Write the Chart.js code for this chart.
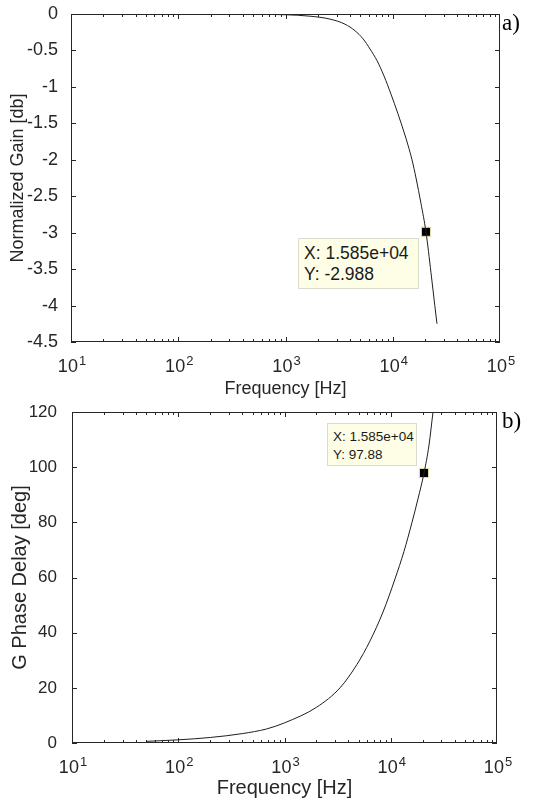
<!DOCTYPE html>
<html>
<head>
<meta charset="utf-8">
<script src="https://cdn.jsdelivr.net/npm/chart.js@4.4.0/dist/chart.umd.min.js"></script>
<style>
  body { margin: 0; background: #fff; }
  #wrap { position: relative; width: 538px; height: 804px; overflow: hidden; }
  canvas { position: absolute; left: 0; }
  #gainChart { top: 0; }
  #phaseChart { top: 402px; }
  .tip {
    position: absolute; background: #fefee6; border: 1px solid #dcdccc;
    font-family: "Liberation Sans", Arial, sans-serif; color: #1a1a1a;
    box-sizing: border-box; white-space: nowrap;
  }
  #tipA { left: 298px; top: 238px; width: 121px; height: 51px; font-size: 17.5px; line-height: 21px; padding: 4px 0 0 5px; }
  #tipB { left: 327px; top: 423px; width: 90px; height: 43px; font-size: 13.5px; line-height: 18px; padding: 4px 0 0 5px; }
  .tag { position: absolute; font-family: "Liberation Serif", "Times New Roman", serif; font-size: 23px; color: #000; }
  .dec {
    position: absolute; transform: translateX(-50%); white-space: nowrap;
    font-family: "Liberation Sans", Arial, sans-serif; font-size: 18px; line-height: 18px; color: #262626;
  }
  .dec span { font-size: 13px; position: relative; top: -7px; margin-left: 1px; }
</style>
</head>
<body>
<div id="wrap">
  <canvas id="gainChart" width="538" height="402"></canvas>
  <canvas id="phaseChart" width="538" height="402"></canvas>
  <div class="tip" id="tipA">X: 1.585e+04<br>Y: -2.988</div>
  <div class="tip" id="tipB">X: 1.585e+04<br>Y: 97.88</div>
  <div class="tag" style="left:502px; top:10px;">a)</div>
  <div class="tag" style="left:502px; top:408px;">b)</div>
</div>
<script>
// values (frequency in Hz against the plotted axis)
const gainFreqHz = [50, 100, 300, 990, 1690, 2600, 3590, 4450, 5280, 6140, 7130, 8290, 9630, 11190, 12730, 13880, 15120, 16480, 18340, 20400, 22730, 24670, 25850];
const gainDb = [0, 0, -0.002, -0.01, -0.03, -0.07, -0.14, -0.23, -0.34, -0.48, -0.64, -0.85, -1.1, -1.37, -1.62, -1.8, -2.0, -2.25, -2.6, -2.988, -3.55, -4.0, -4.25];

const phaseFreqHz = [50, 100, 200, 400, 680, 1000, 2010, 3330, 4810, 6380, 8460, 10970, 13330, 15850, 18040, 20560, 22910, 25000, 26700];
const phaseDeg = [0.6, 1.15, 2.0, 3.4, 5.1, 7.3, 13, 20, 28.5, 37, 47.5, 59.5, 69.5, 80, 88.5, 97.88, 108, 120, 128];

// data cursor squares, where they sit in the figure
const gainCursor = [{ x: 20400, y: -2.988 }];
const phaseCursor = [{ x: 20560, y: 97.88 }];

const decadeTicks = [10, 100, 1000, 10000, 100000];
const decadeExp = ['1', '2', '3', '4', '5'];
const gainTicks = [0, -0.5, -1, -1.5, -2, -2.5, -3, -3.5, -4, -4.5];
const phaseTicks = [0, 20, 40, 60, 80, 100, 120];

const FONT = '"Liberation Sans", Arial, sans-serif';
const INK = '#262626';

// box round the plot with inward ticks on all four sides, like matlab
const boxPlugin = {
  id: 'box',
  afterDatasetsDraw(chart) {
    const { ctx, chartArea: a, scales } = chart;
    const x = scales.x, y = scales.y;
    ctx.save();
    ctx.strokeStyle = INK;
    ctx.lineWidth = 1;
    ctx.strokeRect(a.left + 0.5, a.top + 0.5, a.right - a.left - 1, a.bottom - a.top - 1);
    ctx.beginPath();
    for (let d = 1; d < 5; d++) {
      for (let m = 1; m < 10; m++) {
        const px = Math.round(x.getPixelForValue(m * Math.pow(10, d))) + 0.5;
        const len = m == 1 ? 5 : 3;
        ctx.moveTo(px, a.bottom); ctx.lineTo(px, a.bottom - len);
        ctx.moveTo(px, a.top); ctx.lineTo(px, a.top + len);
      }
    }
    y.ticks.forEach(t => {
      const py = Math.round(y.getPixelForValue(t.value)) + 0.5;
      ctx.moveTo(a.left, py); ctx.lineTo(a.left + 5, py);
      ctx.moveTo(a.right, py); ctx.lineTo(a.right - 5, py);
    });
    ctx.stroke();
    ctx.restore();
  }
};

function makeChart(id, cfg) {
  const chart = new Chart(document.getElementById(id), {
    type: 'line',
    data: {
      datasets: [
        {
          data: cfg.freq.map((f, i) => ({ x: f, y: cfg.vals[i] })),
          borderColor: '#1e1e1e', borderWidth: 1, pointRadius: 0,
          cubicInterpolationMode: 'monotone', fill: false
        },
        {
          data: cfg.cursor, showLine: false, pointStyle: 'rect',
          pointRadius: 6.4, pointBackgroundColor: '#000', pointBorderColor: '#e6dfa8', pointBorderWidth: 1
        }
      ]
    },
    options: {
      responsive: false, animation: false,
      layout: { padding: cfg.pad },
      plugins: { legend: { display: false }, tooltip: { enabled: false } },
      scales: {
        x: {
          type: 'logarithmic', min: 10, max: 100000,
          grid: { display: false }, border: { display: false },
          afterBuildTicks: s => { s.ticks = decadeTicks.map(v => ({ value: v })); },
          afterFit: s => { s.height = cfg.xh; s.paddingLeft = 0; s.paddingRight = 0; },
          ticks: { display: false },
          title: {
            display: true, text: 'Frequency [Hz]', color: INK,
            font: { family: FONT, size: cfg.titleSize }, padding: { bottom: cfg.xTitlePad, top: 0 }
          }
        },
        y: {
          min: Math.min(...cfg.ticks), max: Math.max(...cfg.ticks),
          grid: { display: false }, border: { display: false },
          afterBuildTicks: s => { s.ticks = cfg.ticks.map(v => ({ value: v })); },
          afterFit: s => { s.width = cfg.yw; s.paddingTop = 0; s.paddingBottom = 0; },
          ticks: {
            padding: cfg.yTickPad, color: INK, font: { family: FONT, size: cfg.yTickSize },
            callback: v => String(v)
          },
          title: {
            display: true, text: cfg.yTitle, color: INK,
            font: { family: FONT, size: cfg.titleSize }, padding: { top: cfg.yTitlePad, bottom: 0 }
          }
        }
      }
    },
    plugins: [boxPlugin]
  });

  // decade labels 10^n with a raised exponent, placed by the x scale
  const wrap = document.getElementById('wrap');
  decadeTicks.forEach((v, i) => {
    const el = document.createElement('div');
    el.className = 'dec';
    el.innerHTML = '10<span>' + decadeExp[i] + '</span>';
    el.style.left = (chart.scales.x.getPixelForValue(v) + 1) + 'px';
    el.style.top = (cfg.top + cfg.decTop) + 'px';
    wrap.appendChild(el);
  });
  return chart;
}

makeChart('gainChart', {
  freq: gainFreqHz, vals: gainDb, cursor: gainCursor, ticks: gainTicks,
  yTitle: 'Normalized Gain [db]', top: 0, decTop: 357,
  pad: { top: 14, right: 38, left: 0, bottom: 0 },
  xh: 60, yw: 71, yTickPad: 5, yTickSize: 18,
  titleSize: 18, xTitlePad: 2, yTitlePad: 7
});

makeChart('phaseChart', {
  freq: phaseFreqHz, vals: phaseDeg, cursor: phaseCursor, ticks: phaseTicks,
  yTitle: 'G Phase Delay [deg]', top: 402, decTop: 356,
  pad: { top: 10, right: 41, left: 0, bottom: 0 },
  xh: 61, yw: 72, yTickPad: 7, yTickSize: 17,
  titleSize: 20, xTitlePad: 4, yTitlePad: 8
});
</script>
</body>
</html>
